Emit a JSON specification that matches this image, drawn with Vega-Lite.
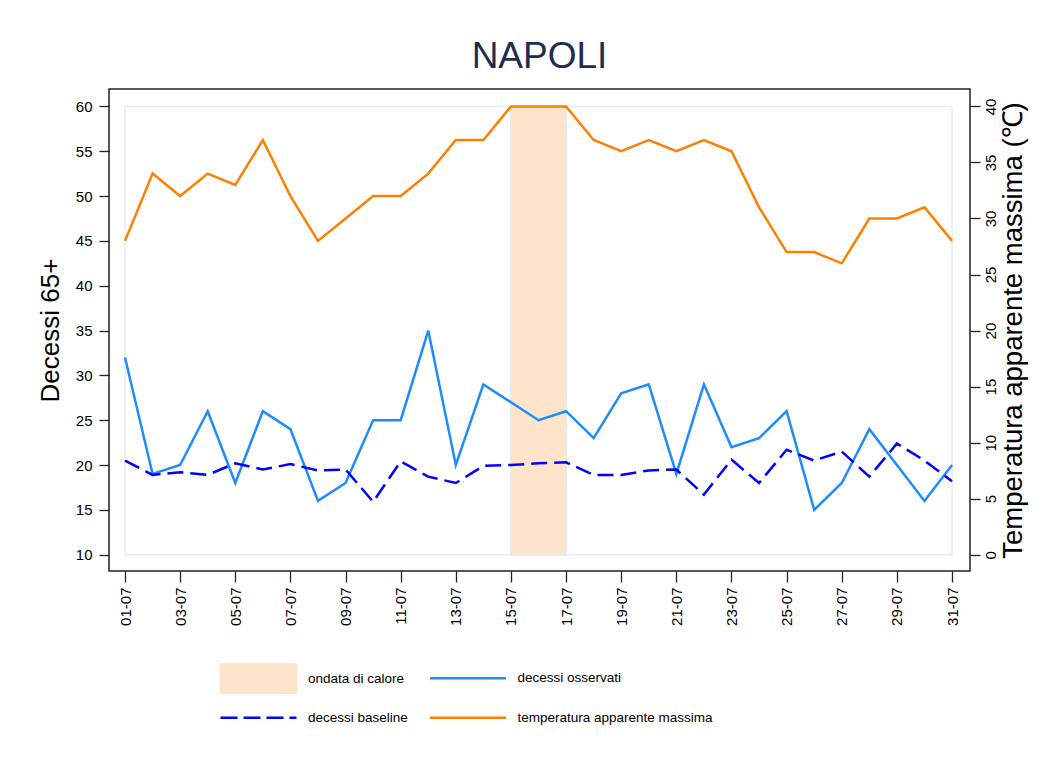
{
  "$schema": "https://vega.github.io/schema/vega-lite/v6.json",
  "width": 861,
  "height": 482,
  "autosize": {"type": "none"},
  "padding": {"left": 109, "top": 89, "right": 81, "bottom": 198},
  "background": "white",
  "title": {"text": "NAPOLI", "fontSize": 37, "font": "Liberation Sans", "fontWeight": "normal", "color": "#1F2D50", "anchor": "middle", "baseline": "alphabetic", "offset": -16},
  "config": {
    "view": {"stroke": "#222", "strokeWidth": 1.5},
    "font": "Liberation Sans",
    "axis": {"grid": false, "domain": false, "tickColor": "#222", "tickWidth": 1.3, "labelColor": "#000", "labelFontSize": 15, "labelFont": "Liberation Sans", "titleFont": "Liberation Sans", "titleFontWeight": "normal", "titleColor": "#000"}
  },
  "data": {"values": [
    {"giorno": 1, "osservati": 32, "baseline": 20.5, "temperatura": 28},
    {"giorno": 2, "osservati": 19, "baseline": 18.9, "temperatura": 34},
    {"giorno": 3, "osservati": 20, "baseline": 19.2, "temperatura": 32},
    {"giorno": 4, "osservati": 26, "baseline": 18.9, "temperatura": 34},
    {"giorno": 5, "osservati": 18, "baseline": 20.2, "temperatura": 33},
    {"giorno": 6, "osservati": 26, "baseline": 19.5, "temperatura": 37},
    {"giorno": 7, "osservati": 24, "baseline": 20.1, "temperatura": 32},
    {"giorno": 8, "osservati": 16, "baseline": 19.4, "temperatura": 28},
    {"giorno": 9, "osservati": 18, "baseline": 19.5, "temperatura": 30},
    {"giorno": 10, "osservati": 25, "baseline": 15.9, "temperatura": 32},
    {"giorno": 11, "osservati": 25, "baseline": 20.4, "temperatura": 32},
    {"giorno": 12, "osservati": 35, "baseline": 18.7, "temperatura": 34},
    {"giorno": 13, "osservati": 20, "baseline": 18.0, "temperatura": 37},
    {"giorno": 14, "osservati": 29, "baseline": 19.9, "temperatura": 37},
    {"giorno": 15, "osservati": 27, "baseline": 20.0, "temperatura": 40},
    {"giorno": 16, "osservati": 25, "baseline": 20.2, "temperatura": 40},
    {"giorno": 17, "osservati": 26, "baseline": 20.3, "temperatura": 40},
    {"giorno": 18, "osservati": 23, "baseline": 18.9, "temperatura": 37},
    {"giorno": 19, "osservati": 28, "baseline": 18.9, "temperatura": 36},
    {"giorno": 20, "osservati": 29, "baseline": 19.4, "temperatura": 37},
    {"giorno": 21, "osservati": 19, "baseline": 19.5, "temperatura": 36},
    {"giorno": 22, "osservati": 29, "baseline": 16.7, "temperatura": 37},
    {"giorno": 23, "osservati": 22, "baseline": 20.6, "temperatura": 36},
    {"giorno": 24, "osservati": 23, "baseline": 18.0, "temperatura": 31},
    {"giorno": 25, "osservati": 26, "baseline": 21.7, "temperatura": 27},
    {"giorno": 26, "osservati": 15, "baseline": 20.5, "temperatura": 27},
    {"giorno": 27, "osservati": 18, "baseline": 21.5, "temperatura": 26},
    {"giorno": 28, "osservati": 24, "baseline": 18.7, "temperatura": 30},
    {"giorno": 29, "osservati": 20, "baseline": 22.4, "temperatura": 30},
    {"giorno": 30, "osservati": 16, "baseline": 20.5, "temperatura": 31},
    {"giorno": 31, "osservati": 20, "baseline": 18.2, "temperatura": 28}
  ]},
  "layer": [
    {
      "layer": [
        {
          "data": {"values": [{}]},
          "mark": {"type": "rect", "fill": null, "stroke": "#E6EEF0", "strokeWidth": 1.5},
          "encoding": {
            "x": {"datum": 1, "type": "quantitative"},
            "x2": {"datum": 31},
            "y": {"datum": 10, "type": "quantitative"},
            "y2": {"datum": 60}
          }
        },
        {
          "data": {"values": [{"inizio": 15, "fine": 17, "evento": "ondata di calore"}]},
          "mark": {"type": "rect", "stroke": "#E3EBED", "strokeWidth": 2, "opacity": 1},
          "encoding": {
            "x": {"field": "inizio", "type": "quantitative"},
            "x2": {"field": "fine"},
            "y": {"datum": 10, "type": "quantitative"},
            "y2": {"datum": 60},
            "color": {
              "field": "evento",
              "type": "nominal",
              "scale": {
                "domain": ["ondata di calore", "decessi osservati", "decessi baseline", "temperatura apparente massima"],
                "range": ["#FDE4CB", "#1E8CFA", "#0000FF", "#FF8000"]
              },
              "legend": {
                "orient": "none",
                "direction": "horizontal",
                "legendX": 124.5,
                "legendY": 582,
                "columns": 2,
                "title": null,
                "padding": 0,
                "symbolSize": 1444,
                "symbolOffset": 18.25,
                "labelOffset": 42.75,
                "columnPadding": 16.5,
                "rowPadding": 0,
                "labelFontSize": 13.5,
                "labelFont": "Liberation Sans",
                "labelColor": "#000",
                "labelLimit": 400,
                "symbolStrokeWidth": 2.5,
                "encoding": {
                  "symbols": {
                    "shape": {"value": {"expr": "datum.value === 'ondata di calore' ? 'M-2,-0.76H2V0.76H-2Z' : 'M-2,-0.76L-2,-0.76M-2,0.76L-2,0.76M-2,0H2'"}},
                    "fill": {"value": {"expr": "datum.value === 'ondata di calore' ? '#FDE4CB' : 'transparent'"}},
                    "stroke": {"value": {"expr": "datum.value === 'ondata di calore' ? '#E3EBED' : datum.value === 'decessi osservati' ? '#1E8CFA' : datum.value === 'decessi baseline' ? '#0000FF' : '#FF8000'"}},
                    "strokeWidth": {"value": {"expr": "datum.value === 'ondata di calore' ? 2 : 2.5"}},
                    "strokeDash": {"value": {"expr": "datum.value === 'decessi baseline' ? [17, 6] : [1, 0]"}},
                    "opacity": {"value": 1}
                  }
                }
              }
            }
          }
        },
        {
          "mark": {"type": "line", "strokeWidth": 2.5},
          "encoding": {
            "x": {
              "field": "giorno",
              "type": "quantitative",
              "scale": {"domain": [0.4196, 31.652], "nice": false, "zero": false},
              "axis": {
                "title": null,
                "values": [1, 3, 5, 7, 9, 11, 13, 15, 17, 19, 21, 23, 25, 27, 29, 31],
                "labelExpr": "(datum.value < 10 ? '0' : '') + datum.value + '-07'",
                "labelAngle": 270,
                "labelAlign": "right",
                "labelBaseline": "middle",
                "tickSize": 11,
                "labelPadding": 5
              }
            },
            "y": {
              "field": "osservati",
              "type": "quantitative",
              "scale": {"domain": [8.18, 61.94], "nice": false, "zero": false},
              "axis": {
                "title": "Decessi 65+",
                "titleFontSize": 26,
                "titlePadding": 12,
                "values": [10, 15, 20, 25, 30, 35, 40, 45, 50, 55, 60],
                "tickSize": 10,
                "labelPadding": 7
              }
            },
            "color": {"datum": "decessi osservati"}
          }
        },
        {
          "mark": {"type": "line", "strokeWidth": 2.5, "strokeDash": [16, 7]},
          "encoding": {
            "x": {"field": "giorno", "type": "quantitative"},
            "y": {"field": "baseline", "type": "quantitative"},
            "color": {"datum": "decessi baseline"}
          }
        }
      ]
    },
    {
      "mark": {"type": "line", "strokeWidth": 2.5},
      "encoding": {
        "x": {"field": "giorno", "type": "quantitative"},
        "y": {
          "field": "temperatura",
          "type": "quantitative",
          "scale": {"domain": [-1.454, 41.553], "nice": false, "zero": false},
          "axis": {
            "orient": "right",
            "title": "Temperatura apparente massima (℃)",
            "titleFontSize": 27.5,
            "titleAngle": 270,
            "titlePadding": 29,
            "values": [0, 5, 10, 15, 20, 25, 30, 35, 40],
            "labelAngle": 270,
            "labelAlign": "center",
            "labelBaseline": "top",
            "labelPadding": 3,
            "tickSize": 10
          }
        },
        "color": {"datum": "temperatura apparente massima"}
      }
    }
  ],
  "resolve": {"scale": {"y": "independent"}}
}
